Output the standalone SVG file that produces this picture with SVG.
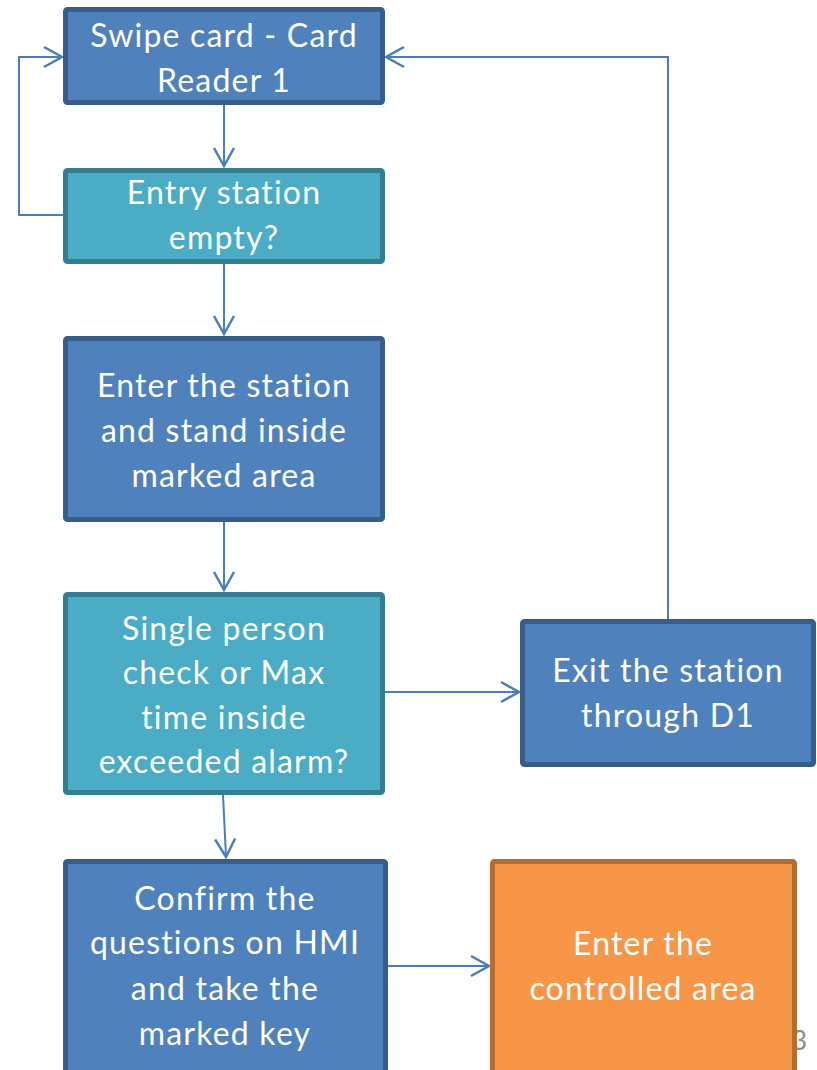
<svg xmlns="http://www.w3.org/2000/svg" width="817" height="1070" viewBox="0 0 817 1070">
  <style>
    .blue { fill: #4F81BD; stroke: #385D8A; stroke-width: 5; }
    .teal { fill: #4BACC6; stroke: #357D91; stroke-width: 5; }
    .orange { fill: #F79646; stroke: #B66D31; stroke-width: 5; }
    .lbl { font-family: Lato, "Liberation Sans", sans-serif; font-size: 32px; letter-spacing: 1.2px; font-variant-ligatures: none; fill: #FFFFFF; text-anchor: middle; }
    .conn { fill: none; stroke: #4A7EBB; stroke-width: 2; }
    .pg { font-family: Lato, "Liberation Sans", sans-serif; font-size: 26px; fill: #8C8C8C; }
  </style>
  <defs>
    <marker id="arrow" markerUnits="userSpaceOnUse" markerWidth="24" markerHeight="24" viewBox="-20 -12 22 24" refX="0" refY="0" orient="auto">
      <path d="M-18,-10 L0,0 L-18,10" fill="none" stroke="#4A7EBB" stroke-width="2.5"/>
    </marker>
  </defs>

  <!-- page number, partly hidden behind the last box -->
  <text class="pg" x="792" y="1050">3</text>

  <!-- connectors -->
  <g id="connectors">
    <path class="conn" d="M224,105 L224,166" marker-end="url(#arrow)"/>
    <path class="conn" d="M63,215 L19,215 L19,57 L62,57" marker-end="url(#arrow)"/>
    <path class="conn" d="M224,264 L224,334" marker-end="url(#arrow)"/>
    <path class="conn" d="M224,522 L224,590" marker-end="url(#arrow)"/>
    <path class="conn" d="M385,692 L519,692" marker-end="url(#arrow)"/>
    <path class="conn" d="M668,619 L668,57 L386,57" marker-end="url(#arrow)"/>
    <path class="conn" d="M223,795 L226,857" marker-end="url(#arrow)"/>
    <path class="conn" d="M388,966 L489,966" marker-end="url(#arrow)"/>
  </g>

  <g id="swipe-card">
    <rect class="blue" x="65.5" y="9.5" width="317" height="93" rx="2"/>
    <text class="lbl" x="224" y="47">Swipe card - Card</text>
    <text class="lbl" x="224" y="92">Reader 1</text>
  </g>

  <g id="entry-empty">
    <rect class="teal" x="65.5" y="170.5" width="317" height="91" rx="2"/>
    <text class="lbl" x="224" y="204">Entry station</text>
    <text class="lbl" x="224" y="249">empty?</text>
  </g>

  <g id="enter-station">
    <rect class="blue" x="65.5" y="338.5" width="317" height="181" rx="2"/>
    <text class="lbl" x="224" y="397">Enter the station</text>
    <text class="lbl" x="224" y="442">and stand inside</text>
    <text class="lbl" x="224" y="487">marked area</text>
  </g>

  <g id="single-person-check">
    <rect class="teal" x="65.5" y="594.5" width="317" height="198" rx="2"/>
    <text class="lbl" x="224" y="640">Single person</text>
    <text class="lbl" x="224" y="684">check or Max</text>
    <text class="lbl" x="224" y="729">time inside</text>
    <text class="lbl" x="224" y="773">exceeded alarm?</text>
  </g>

  <g id="exit-station">
    <rect class="blue" x="522.5" y="621.5" width="291" height="143" rx="2"/>
    <text class="lbl" x="668" y="682">Exit the station</text>
    <text class="lbl" x="668" y="727">through D1</text>
  </g>

  <g id="confirm-hmi">
    <rect class="blue" x="65.5" y="861.5" width="320" height="220" rx="2"/>
    <text class="lbl" x="225" y="910">Confirm the</text>
    <text class="lbl" x="225" y="954">questions on HMI</text>
    <text class="lbl" x="225" y="1000">and take the</text>
    <text class="lbl" x="225" y="1045">marked key</text>
  </g>

  <g id="enter-controlled">
    <rect class="orange" x="492.5" y="861.5" width="302" height="220" rx="2"/>
    <text class="lbl" x="643" y="955">Enter the</text>
    <text class="lbl" x="643" y="1000">controlled area</text>
  </g>
</svg>
